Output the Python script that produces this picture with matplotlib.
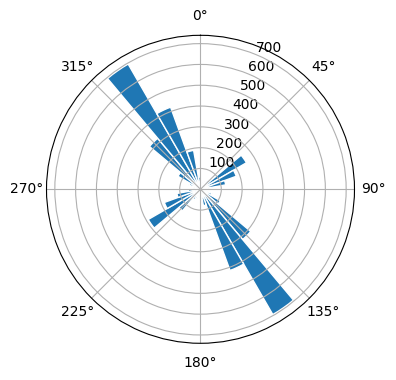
import numpy as np
import matplotlib
matplotlib.use("Agg")
import matplotlib.pyplot as plt

# 36 direction bins of 10 degrees (left edges)
bin_edges_deg = list(range(0, 370, 10))
counts = [30, 25, 35, 45, 60, 255, 183, 123, 45, 30,
          40, 60, 110, 315, 695, 415, 80, 40,
          30, 40, 50, 60, 135, 290, 185, 115, 60, 30,
          40, 60, 125, 320, 695, 420, 190, 60]
radial_ticks = [100, 200, 300, 400, 500, 600, 700]

fig = plt.figure(figsize=(3.96, 3.80), dpi=100)
ax = fig.add_axes([0.1174, 0.0966, 0.7778, 0.8105], projection='polar')
ax.set_theta_zero_location('N')
ax.set_theta_direction(-1)

edges = np.deg2rad(bin_edges_deg)
ax.bar(edges[:-1], counts, width=np.diff(edges), align='edge',
       color='#1f77b4', edgecolor='white', linewidth=1)
ax.set_rticks(radial_ticks)
ax.set_rmax(740)
ax.grid(True, color='#b0b0b0')
fig.savefig('out.png', dpi=100)
